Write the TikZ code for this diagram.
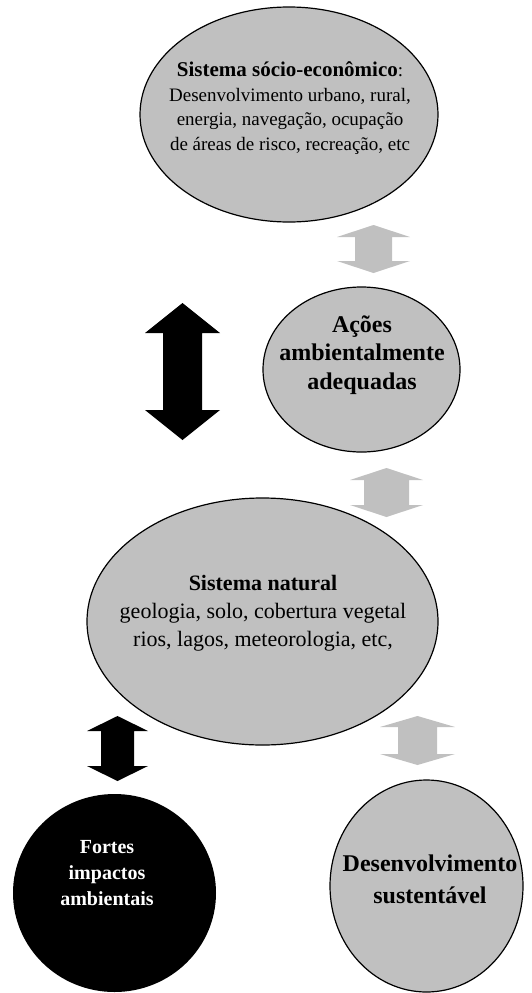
\documentclass[tikz,border=0pt]{standalone}
\usepackage{fontspec}
\setmainfont{Liberation Serif}
\usetikzlibrary{shapes.geometric}
\definecolor{silv}{RGB}{192,192,192}
\tikzset{
  bubble/.style={ellipse, draw=black, line width=1.2pt, fill=silv, inner sep=0pt},
  darkbubble/.style={ellipse, fill=black, inner sep=0pt},
  txtbox/.style={align=center, inner sep=0pt},
}
% vertical double block arrow: colour, cx, ytop, ybot, head half width, shaft half width, head length
\newcommand{\vdblarrow}[7]{%
  \fill[#1] (#2,#3) -- ({#2+#5},{#3+#7}) -- ({#2+#6},{#3+#7}) -- ({#2+#6},{#4-#7})
    -- ({#2+#5},{#4-#7}) -- (#2,#4) -- ({#2-#5},{#4-#7}) -- ({#2-#6},{#4-#7})
    -- ({#2-#6},{#3+#7}) -- ({#2-#5},{#3+#7}) -- cycle;}
\begin{document}
\begin{tikzpicture}[x=1pt,y=-1pt]
\useasboundingbox (0,0) rectangle (532,993);

% ellipses
\node[bubble, minimum width=298pt, minimum height=215pt] (socio) at (289,114.5) {};
\node[txtbox, font=\fontsize{19}{24.5}\selectfont] (sociot) at (290,108)
  {{\fontsize{21}{24.5}\selectfont\textbf{Sistema sócio-econômico}}:\\Desenvolvimento urbano, rural,\\energia, navegação, ocupação\\de áreas de risco, recreação, etc};

\node[bubble, minimum width=197pt, minimum height=165pt] (acoes) at (361.5,369.5) {};
\node[txtbox, font=\fontsize{24}{28.5}\selectfont\bfseries] (acoest) at (362,355)
  {Ações\\ambientalmente\\adequadas};

\node[bubble, minimum width=351pt, minimum height=247pt] (natural) at (262.5,621.5) {};
\node[txtbox, font=\fontsize{22}{28}\selectfont] (naturalt) at (263,613)
  {\textbf{Sistema natural}\\geologia, solo, cobertura vegetal\\rios, lagos, meteorologia, etc,};

\node[darkbubble, minimum width=203pt, minimum height=198pt] (fortes) at (114.5,893) {};
\node[txtbox, text=white, font=\fontsize{20}{26}\selectfont\bfseries] (fortest) at (107,873)
  {Fortes\\impactos\\ambientais};

\node[bubble, minimum width=193pt, minimum height=212pt] (desenv) at (426.5,886) {};
\node[txtbox, font=\fontsize{24}{32}\selectfont\bfseries] (desenvt) at (430,879)
  {Desenvolvimento\\sustentável};

% block arrows
\vdblarrow{silv}{373.5}{225}{273}{36.5}{18.5}{12}
\vdblarrow{black}{182.5}{303}{440}{37.5}{19.5}{30}
\vdblarrow{silv}{386.5}{468}{517}{36.5}{22.5}{12}
\vdblarrow{black}{117.5}{716}{781}{30.5}{16.5}{15}
\vdblarrow{silv}{417.5}{716}{765}{37.5}{19.5}{11}
\end{tikzpicture}
\end{document}
